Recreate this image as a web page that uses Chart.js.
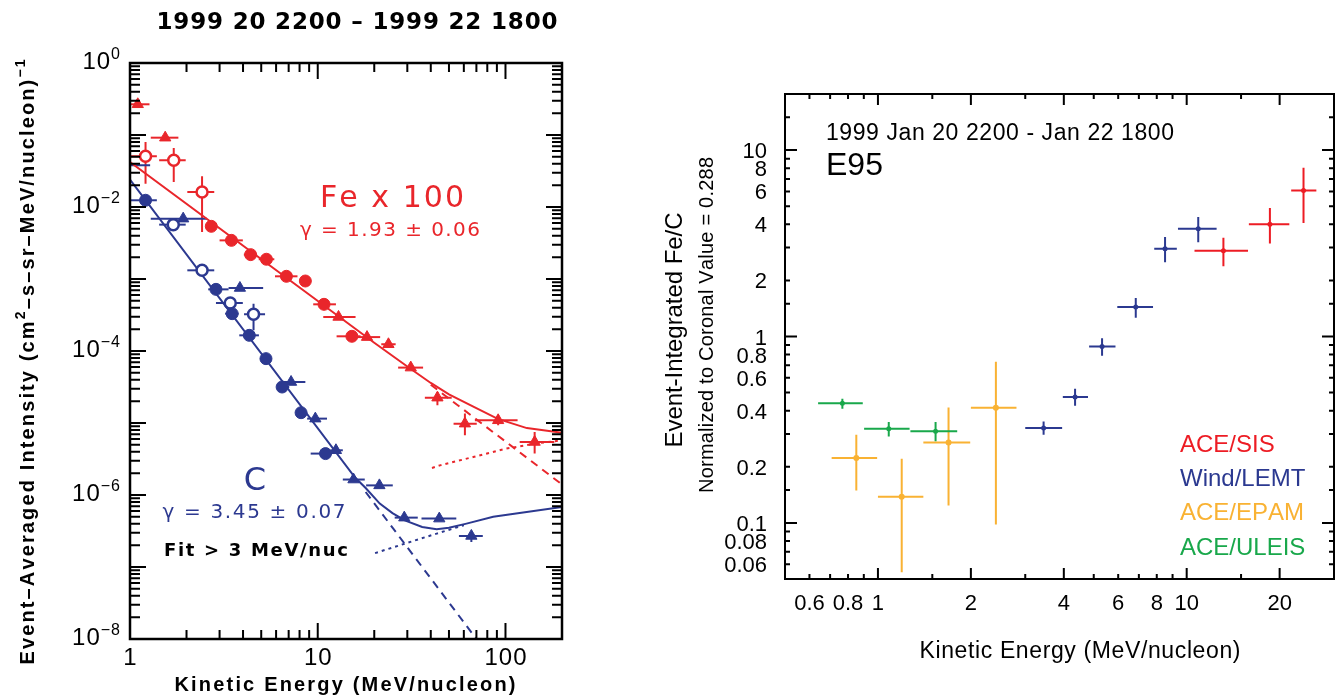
<!DOCTYPE html>
<html><head><meta charset="utf-8">
<script src="https://cdn.jsdelivr.net/npm/chart.js@4.4.1/dist/chart.umd.min.js"></script>
<style>
html,body{margin:0;padding:0;background:#fff;width:1338px;height:698px;overflow:hidden}
#c1{position:absolute;left:0;top:0}
#c2{position:absolute;left:600px;top:0}
</style></head><body>
<canvas id="c1" width="600" height="698"></canvas>
<canvas id="c2" width="738" height="698"></canvas>
<script>
// ===== LEFT PANEL DATA (Event-averaged intensity) =====
// Fe x 100, filled circles
const feCircE   = [2.71, 3.47, 4.39, 5.33, 6.81, 8.59, 10.8, 15.2];
const feCircI   = [5.39e-3, 3.44e-3, 2.18e-3, 1.88e-3, 1.09e-3, 9.38e-4, 4.45e-4, 1.6e-4];
const feCircElo = [2.55, 3.0, 4.04, 4.85, 5.92, 8.15, 9.46, 12.6];
const feCircEhi = [2.87, 3.99, 4.75, 5.87, 7.80, 9.09, 12.5, 16.9];
// Fe x 100, open circles
const feOpenE   = [1.21, 1.71, 2.42];
const feOpenI   = [0.0506, 0.0445, 0.0162];
const feOpenElo = [1.0, 1.43, 2.02];
const feOpenEhi = [1.39, 1.98, 2.81];
const feOpenIlo = [0.0211, 0.0222, 0.0045];
const feOpenIhi = [0.080, 0.066, 0.0267];
// Fe x 100, triangles
const feTriE   = [1.10, 1.54, 12.9, 18.3, 23.8, 31.3, 43.4, 60.8, 91.4, 143];
const feTriI   = [0.267, 0.0918, 2.97e-4, 1.56e-4, 1.24e-4, 5.88e-5, 2.25e-5, 9.8e-6, 1.09e-5, 5.45e-6];
const feTriElo = [1.0, 1.29, 10.7, 16.2, 21.8, 26.8, 37.2, 52.9, 68.7, 119];
const feTriEhi = [1.27, 1.81, 15.9, 21.5, 26.0, 36.4, 51.7, 70.3, 116, 182];
const feTriIlo = [0.267, 0.0918, 2.97e-4, 1.56e-4, 1.1e-4, 5.88e-5, 1.76e-5, 6.75e-6, 9.3e-6, 3.76e-6];
const feTriIhi = [0.267, 0.0918, 2.97e-4, 1.56e-4, 1.4e-4, 5.88e-5, 2.7e-5, 1.35e-5, 1.28e-5, 7.5e-6];
// Fe fit curves
const feFitE  = [1, 20, 30, 40, 50, 67, 91, 130, 200];
const feFitI  = [0.042, 1.3e-4, 6.1e-5, 3.6e-5, 2.5e-5, 1.7e-5, 1.14e-5, 8.5e-6, 7.3e-6];
const feDashE = [40, 200];
const feDashI = [3.4e-5, 1.4e-6];
const feBgE   = [40.6, 44.7, 67.3, 101, 152, 200];
const feBgI   = [2.37e-6, 2.58e-6, 3.37e-6, 4.41e-6, 5.28e-6, 5.75e-6];

// C, filled circles
const cCircE   = [1.21, 2.87, 3.50, 4.32, 5.30, 6.46, 8.15, 11.0];
const cCircI   = [0.0124, 7.18e-4, 3.3e-4, 1.65e-4, 7.83e-5, 3.16e-5, 1.39e-5, 3.76e-6];
const cCircElo = [1.0, 2.61, 3.21, 3.82, 4.92, 6.13, 7.70, 9.17];
const cCircEhi = [1.39, 3.35, 3.79, 4.86, 5.66, 7.05, 8.78, 11.9];
// C, open circles
const cOpenE   = [1.70, 2.42, 3.42, 4.55];
const cOpenI   = [5.69e-3, 1.32e-3, 4.64e-4, 3.23e-4];
const cOpenElo = [1.43, 2.02, 2.87, 4.05];
const cOpenEhi = [1.98, 2.81, 3.99, 5.24];
const cOpenIlo = [5.69e-3, 1.32e-3, 4.64e-4, 1.94e-4];
const cOpenIhi = [5.69e-3, 1.32e-3, 4.64e-4, 4.54e-4];
// C, bar with hidden marker at the axis
const cEdgeE = [1.12], cEdgeI = [0.038], cEdgeElo = [1.0], cEdgeEhi = [1.28];
// C, triangles
const cTriE   = [1.92, 3.85, 7.21, 9.71, 12.5, 15.5, 21.3, 28.9, 44.4, 65.8];
const cTriI   = [6.89e-3, 7.5e-4, 3.71e-5, 1.15e-5, 4.18e-6, 1.64e-6, 1.36e-6, 4.85e-7, 4.7e-7, 2.7e-7];
const cTriElo = [1.29, 3.35, 6.46, 8.78, 11.7, 13.6, 18.1, 25.7, 35.7, 56.5];
const cTriEhi = [2.57, 5.12, 8.59, 11.2, 13.6, 17.8, 25.1, 34.1, 54.7, 75.7];
const cTriIlo = [6.89e-3, 7.5e-4, 3.71e-5, 1.15e-5, 4.18e-6, 1.64e-6, 1.36e-6, 4.85e-7, 4.7e-7, 2.22e-7];
const cTriIhi = [6.89e-3, 7.5e-4, 3.71e-5, 1.15e-5, 4.18e-6, 1.64e-6, 1.36e-6, 4.85e-7, 4.7e-7, 3.06e-7];
// C fit curves
const cFitE  = [1, 15.8, 18, 21.4, 25, 29.1, 36, 43, 50, 62, 86, 200];
const cFitI  = [0.024, 1.75e-6, 1.25e-6, 7.6e-7, 5.6e-7, 4.45e-7, 3.6e-7, 3.35e-7, 3.5e-7, 4.0e-7, 5.0e-7, 6.8e-7];
const cDashE = [18, 70];
const cDashI = [1.1e-6, 1.0e-8];
const cBgE   = [20.2, 29.1, 43, 60];
const cBgI   = [1.56e-7, 2.11e-7, 2.91e-7, 3.8e-7];

const leftXTickVals = [1, 10, 100];
const leftXTickText = ['1', '10', '100'];
const leftYTickVals = [1, 1e-2, 1e-4, 1e-6, 1e-8];
const leftYTickExp  = ['0', '\u22122', '\u22124', '\u22126', '\u22128'];

// ===== RIGHT PANEL DATA (Fe/C ratio) =====
const sisE   = [13.15, 18.6, 23.9];
const sisElo = [10.6, 15.9, 21.8];
const sisEhi = [15.8, 21.5, 26.3];
const sisR   = [2.88, 4.0, 6.08];
const sisRlo = [2.38, 3.15, 4.06];
const sisRhi = [3.39, 4.89, 8.04];

const lemtE   = [3.44, 4.35, 5.32, 6.84, 8.51, 10.9];
const lemtElo = [3.0, 3.97, 4.83, 5.96, 7.85, 9.37];
const lemtEhi = [3.95, 4.79, 5.88, 7.78, 9.29, 12.5];
const lemtR   = [0.323, 0.473, 0.884, 1.44, 2.96, 3.79];
const lemtRlo = [0.297, 0.425, 0.788, 1.26, 2.50, 3.20];
const lemtRhi = [0.350, 0.524, 0.98, 1.61, 3.42, 4.38];

const epamE   = [0.851, 1.194, 1.693, 2.41];
const epamElo = [0.708, 1.0, 1.403, 2.0];
const epamEhi = [0.994, 1.403, 1.99, 2.81];
const epamR   = [0.223, 0.138, 0.270, 0.415];
const epamRlo = [0.149, 0.0544, 0.124, 0.098];
const epamRhi = [0.297, 0.221, 0.416, 0.732];

const uleisE   = [0.767, 1.084, 1.537];
const uleisElo = [0.640, 0.902, 1.274];
const uleisEhi = [0.893, 1.266, 1.806];
const uleisR   = [0.439, 0.320, 0.310];
const uleisRlo = [0.410, 0.291, 0.274];
const uleisRhi = [0.464, 0.348, 0.348];

const rightXTickVals = [0.6, 0.8, 1, 2, 4, 6, 8, 10, 20];
const rightXTickText = ['0.6', '0.8', '1', '2', '4', '6', '8', '10', '20'];
const rightYTickVals = [10, 8, 6, 4, 2, 1, 0.8, 0.6, 0.4, 0.2, 0.1, 0.08, 0.06];
const rightYTickText = ['10', '8', '6', '4', '2', '1', '0.8', '0.6', '0.4', '0.2', '0.1', '0.08', '0.06'];
const rightXLong  = [1, 2, 4, 10, 20];
const rightXShort = [0.6, 0.7, 0.8, 0.9, 1.5, 3, 5, 6, 7, 8, 9, 15];
const rightYLong  = [0.1, 1, 10];
const rightYShort = [0.06, 0.07, 0.08, 0.09, 0.15, 0.2, 0.3, 0.4, 0.5, 0.6, 0.7, 0.8, 0.9, 1.5, 2, 3, 4, 5, 6, 7, 8, 9, 15];

const legendNames = ['ACE/SIS', 'Wind/LEMT', 'ACE/EPAM', 'ACE/ULEIS'];

// ===== STYLE =====
const FONT = "'Liberation Sans', Arial, sans-serif";
const DJV = "'DejaVu Sans', sans-serif";
const LRED = '#E9262B', LBLUE = '#2C3990';
const RRED = '#ED1C24', RBLUE = '#2B3990', RORANGE = '#F9B233', RGREEN = '#19A84B';
const RCOLORS = [RRED, RBLUE, RORANGE, RGREEN];

function pts(xs, ys) { return xs.map((x, i) => ({x: x, y: ys[i]})); }

function drawRich(ctx, parts, x, y, o) {
  ctx.save();
  ctx.translate(x, y);
  if (o.rot) ctx.rotate(o.rot);
  ctx.fillStyle = o.color || '#000';
  ctx.textBaseline = 'alphabetic';
  ctx.textAlign = 'left';
  if ('letterSpacing' in ctx) ctx.letterSpacing = '0px';
  const w = o.weight || 'normal';
  const fam = o.family || FONT;
  const chars = [];
  parts.forEach(p => {
    const sup = !!p[1];
    const font = w + ' ' + (sup ? (o.supSize || Math.round(o.size * 0.65)) : o.size) + 'px ' + fam;
    ctx.font = font;
    for (const ch of p[0]) chars.push({ch: ch, font: font, sup: sup, w: ctx.measureText(ch).width});
  });
  const natural = chars.reduce((s, c) => s + c.w, 0);
  const sp = o.width ? (o.width - natural) / Math.max(1, chars.length - 1) : (o.spacing || 0);
  const total = natural + sp * (chars.length - 1);
  let cx = o.align === 'center' ? -total / 2 : (o.align === 'right' ? -total : 0);
  chars.forEach(c => {
    ctx.font = c.font;
    ctx.fillText(c.ch, cx, c.sup ? -(o.rise || o.size * 0.4) : 0);
    cx += c.w + sp;
  });
  ctx.restore();
}

function drawErrors(chart) {
  const {ctx, chartArea: a} = chart;
  const xs = chart.scales.x, ys = chart.scales.y;
  ctx.save();
  ctx.beginPath();
  ctx.rect(a.left, a.top, a.right - a.left, a.bottom - a.top);
  ctx.clip();
  chart.data.datasets.forEach(ds => {
    if (!ds.err) return;
    ctx.strokeStyle = ds.errColor;
    ctx.lineWidth = ds.errWidth || 2;
    ds.data.forEach((p, i) => {
      const px = xs.getPixelForValue(p.x), py = ys.getPixelForValue(p.y);
      const e = ds.err;
      ctx.beginPath();
      ctx.moveTo(xs.getPixelForValue(e.xlo[i]), py);
      ctx.lineTo(xs.getPixelForValue(e.xhi[i]), py);
      if (e.ylo && e.yhi && e.ylo[i] !== e.yhi[i]) {
        ctx.moveTo(px, ys.getPixelForValue(e.ylo[i]));
        ctx.lineTo(px, ys.getPixelForValue(e.yhi[i]));
      }
      ctx.stroke();
    });
  });
  ctx.restore();
}

function drawFrame(chart, frameW, tickW, xTicks, yTicks) {
  const {ctx, chartArea: a} = chart;
  const xs = chart.scales.x, ys = chart.scales.y;
  ctx.save();
  ctx.strokeStyle = '#000';
  ctx.lineWidth = tickW;
  ctx.beginPath();
  xTicks.forEach(t => {
    const px = xs.getPixelForValue(t[0]);
    ctx.moveTo(px, a.bottom); ctx.lineTo(px, a.bottom - t[1]);
    ctx.moveTo(px, a.top); ctx.lineTo(px, a.top + t[1]);
  });
  yTicks.forEach(t => {
    const py = ys.getPixelForValue(t[0]);
    ctx.moveTo(a.left, py); ctx.lineTo(a.left + t[1], py);
    ctx.moveTo(a.right, py); ctx.lineTo(a.right - t[1], py);
  });
  ctx.stroke();
  ctx.lineWidth = frameW;
  ctx.strokeRect(a.left, a.top, a.right - a.left, a.bottom - a.top);
  ctx.restore();
}

function errDs(label, xs, ys, xlo, xhi, ylo, yhi, color, style, radius, fill, bw) {
  return {
    label: label, data: pts(xs, ys), order: 0,
    pointStyle: style, pointRadius: radius, pointHoverRadius: radius,
    backgroundColor: fill, borderColor: color, pointBorderWidth: bw, borderWidth: bw,
    err: {xlo: xlo, xhi: xhi, ylo: ylo, yhi: yhi}, errColor: color, errWidth: 2
  };
}
function lineDs(label, xs, ys, color, dash) {
  return {label: label, data: pts(xs, ys), order: 1, showLine: true, tension: 0,
    borderColor: color, borderWidth: 2, borderDash: dash, pointRadius: 0, fill: false};
}

Chart.defaults.font.family = FONT;

// ===== LEFT CHART =====
const leftMinor = [];
[-8, -7, -6, -5, -4, -3, -2, -1].forEach(d => { for (let m = 2; m <= 9; m++) leftMinor.push(m * Math.pow(10, d)); });
const leftYTicks = [[1e-8,16],[1e-7,16],[1e-6,16],[1e-5,16],[1e-4,16],[1e-3,16],[1e-2,16],[1e-1,16],[1,16]].concat(leftMinor.map(v => [v, 10]));
const leftXTicks = [[1,16],[10,16],[100,16]];
[1, 10].forEach(d => { for (let m = 2; m <= 9; m++) leftXTicks.push([m * d, 9]); });

new Chart(document.getElementById('c1'), {
  type: 'scatter',
  data: { datasets: [
    errDs('Fe filled', feCircE, feCircI, feCircElo, feCircEhi, null, null, LRED, 'circle', 6, LRED, 1),
    errDs('Fe open', feOpenE, feOpenI, feOpenElo, feOpenEhi, feOpenIlo, feOpenIhi, LRED, 'circle', 5.5, '#fff', 2.5),
    errDs('Fe tri', feTriE, feTriI, feTriElo, feTriEhi, feTriIlo, feTriIhi, LRED, 'triangle', 6.5, LRED, 1),
    errDs('C filled', cCircE, cCircI, cCircElo, cCircEhi, null, null, LBLUE, 'circle', 6, LBLUE, 1),
    errDs('C open', cOpenE, cOpenI, cOpenElo, cOpenEhi, cOpenIlo, cOpenIhi, LBLUE, 'circle', 5.5, '#fff', 2.5),
    errDs('C edge', cEdgeE, cEdgeI, cEdgeElo, cEdgeEhi, null, null, LBLUE, 'circle', 0, LBLUE, 0),
    errDs('C tri', cTriE, cTriI, cTriElo, cTriEhi, cTriIlo, cTriIhi, LBLUE, 'triangle', 6.5, LBLUE, 1),
    lineDs('Fe fit', feFitE, feFitI, LRED, []),
    lineDs('Fe power law', feDashE, feDashI, LRED, [8, 6]),
    lineDs('Fe background', feBgE, feBgI, LRED, [3, 4]),
    lineDs('C fit', cFitE, cFitI, LBLUE, []),
    lineDs('C power law', cDashE, cDashI, LBLUE, [8, 6]),
    lineDs('C background', cBgE, cBgI, LBLUE, [3, 4])
  ]},
  options: {
    responsive: false, animation: false, devicePixelRatio: 1,
    layout: { padding: {left: 130, right: 38, top: 63, bottom: 59} },
    plugins: { legend: {display: false}, tooltip: {enabled: false} },
    scales: {
      x: { type: 'logarithmic', min: 1, max: 200, bounds: 'data', display: false },
      y: { type: 'logarithmic', min: 1e-8, max: 1, bounds: 'data', display: false }
    }
  },
  plugins: [{
    id: 'leftDeco',
    beforeDatasetsDraw(chart) { drawErrors(chart); },
    afterDraw(chart) {
      const ctx = chart.ctx, xs = chart.scales.x, ys = chart.scales.y;
      drawFrame(chart, 2.5, 2, leftXTicks, leftYTicks);
      leftXTickVals.forEach((v, i) => drawRich(ctx, [[leftXTickText[i], 0]], xs.getPixelForValue(v), 665, {size: 24, align: 'center', spacing: 1}));
      leftYTickVals.forEach((v, i) => drawRich(ctx, [['10', 0], [leftYTickExp[i], 1]], 120, ys.getPixelForValue(v) + 6, {size: 24, supSize: 16, rise: 10, align: 'right', spacing: 1}));
      drawRich(ctx, [['1999 20 2200 \u2013 1999 22 1800', 0]], 357, 29, {size: 23, weight: 'bold', family: DJV, align: 'center', width: 401});
      drawRich(ctx, [['Kinetic Energy (MeV/nucleon)', 0]], 345, 691, {size: 20, weight: 'bold', align: 'center', width: 341});
      drawRich(ctx, [['Event\u2013Averaged Intensity (cm', 0], ['2', 1], ['\u2013s\u2013sr\u2013MeV/nucleon)', 0], ['\u22121', 1]], 34, 362,
        {size: 20, supSize: 14, rise: 9, weight: 'bold', align: 'center', width: 605, rot: -Math.PI / 2});
      drawRich(ctx, [['Fe x 100', 0]], 392, 207, {size: 30, family: DJV, align: 'center', width: 144, color: LRED});
      drawRich(ctx, [['\u03b3 = 1.93 \u00b1 0.06', 0]], 390, 236, {size: 20, family: DJV, align: 'center', width: 180, color: LRED});
      drawRich(ctx, [['C', 0]], 255, 490, {size: 32, family: DJV, align: 'center', color: LBLUE});
      drawRich(ctx, [['\u03b3 = 3.45 \u00b1 0.07', 0]], 254, 518, {size: 20, family: DJV, align: 'center', width: 183, color: LBLUE});
      drawRich(ctx, [['Fit > 3 MeV/nuc', 0]], 256, 556, {size: 18, weight: 'bold', family: DJV, align: 'center', width: 184});
    }
  }]
});

// ===== RIGHT CHART =====
const rightXTicks = rightXLong.map(v => [v, 11]).concat(rightXShort.map(v => [v, 5]));
const rightYTicks = rightYLong.map(v => [v, 12]).concat(rightYShort.map(v => [v, 5]));

new Chart(document.getElementById('c2'), {
  type: 'scatter',
  data: { datasets: [
    errDs(legendNames[0], sisE, sisR, sisElo, sisEhi, sisRlo, sisRhi, RRED, 'circle', 2.5, RRED, 0),
    errDs(legendNames[1], lemtE, lemtR, lemtElo, lemtEhi, lemtRlo, lemtRhi, RBLUE, 'circle', 2.5, RBLUE, 0),
    errDs(legendNames[2], epamE, epamR, epamElo, epamEhi, epamRlo, epamRhi, RORANGE, 'circle', 3, RORANGE, 0),
    errDs(legendNames[3], uleisE, uleisR, uleisElo, uleisEhi, uleisRlo, uleisRhi, RGREEN, 'circle', 2.5, RGREEN, 0)
  ]},
  options: {
    responsive: false, animation: false, devicePixelRatio: 1,
    layout: { padding: {left: 185, right: 4, top: 94, bottom: 119} },
    plugins: { legend: {display: false}, tooltip: {enabled: false} },
    scales: {
      x: { type: 'logarithmic', min: 0.5, max: 30, bounds: 'data', display: false },
      y: { type: 'logarithmic', min: 0.05, max: 20, bounds: 'data', display: false }
    }
  },
  plugins: [{
    id: 'rightDeco',
    beforeDatasetsDraw(chart) { drawErrors(chart); },
    afterDraw(chart) {
      const ctx = chart.ctx, xs = chart.scales.x, ys = chart.scales.y;
      const ox = 600;
      drawFrame(chart, 2, 2, rightXTicks, rightYTicks);
      rightXTickVals.forEach((v, i) => drawRich(ctx, [[rightXTickText[i], 0]], xs.getPixelForValue(v), 610, {size: 22, align: 'center'}));
      rightYTickVals.forEach((v, i) => drawRich(ctx, [[rightYTickText[i], 0]], 767 - ox, ys.getPixelForValue(v) + 8, {size: 22, align: 'right'}));
      drawRich(ctx, [['1999 Jan 20 2200 - Jan 22 1800', 0]], 826 - ox, 140, {size: 23, width: 348});
      drawRich(ctx, [['E95', 0]], 826 - ox, 175, {size: 32});
      drawRich(ctx, [['Kinetic Energy (MeV/nucleon)', 0]], 1080 - ox, 658, {size: 23, align: 'center', width: 321});
      drawRich(ctx, [['Event-Integrated Fe/C', 0]], 682 - ox, 330, {size: 24, align: 'center', width: 235, rot: -Math.PI / 2});
      drawRich(ctx, [['Normalized to Coronal Value = 0.288', 0]], 713 - ox, 325, {size: 20, align: 'center', width: 336, rot: -Math.PI / 2});
      const lb = [452, 486, 520, 555];
      legendNames.forEach((n, i) => drawRich(ctx, [[n, 0]], 1180 - ox, lb[i], {size: 24, color: RCOLORS[i]}));
    }
  }]
});
</script></body></html>
